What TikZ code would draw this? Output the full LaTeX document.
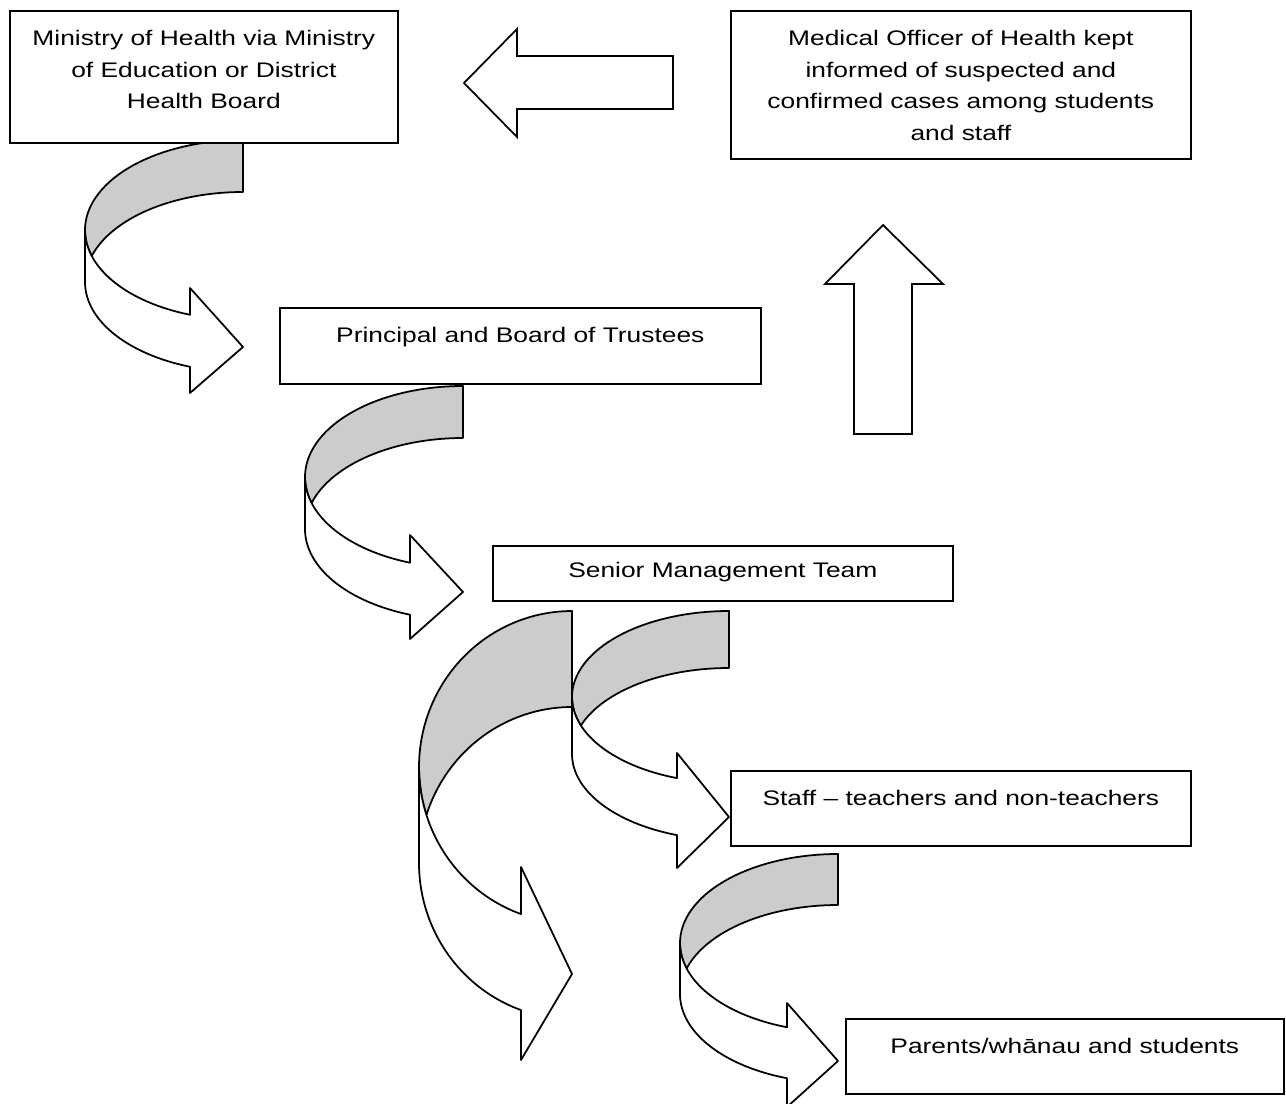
\documentclass[tikz,border=0pt]{standalone}
\usepackage{fontspec}
\setmainfont{Liberation Sans}[FakeStretch=1.25]
\usetikzlibrary{positioning}

\definecolor{bandgray}{gray}{0.8}

% curved ribbon arrow: left, right, top, radius y, band, head base x, head top, head bottom, tip y
\newcommand{\ribbonarrow}[9]{%
	\pgfmathsetmacro{\ribrx}{#2-#1}
	\pgfmathsetmacro{\ribca}{#3+#4}
	\pgfmathsetmacro{\ribcb}{#3+#4+#5}
	\pgfmathsetmacro{\ribal}{asin(#5/(2*#4))}
	\pgfmathsetmacro{\ribpa}{180-\ribal}
	\pgfmathsetmacro{\ribpb}{180+\ribal}
	\pgfmathsetmacro{\ribbe}{acos((#6-#2)/\ribrx)}
	\filldraw[band,fill=bandgray]
		plot[domain=270:\ribpa] ({#2+\ribrx*cos(\x)},{\ribca+#4*sin(\x)})
		-- plot[domain=\ribpb:270] ({#2+\ribrx*cos(\x)},{\ribcb+#4*sin(\x)}) -- cycle;
	\filldraw[band,fill=white]
		plot[domain=180:\ribbe] ({#2+\ribrx*cos(\x)},{\ribcb+#4*sin(\x)})
		-- (#6,#8) -- (#2,#9) -- (#6,#7)
		-- plot[domain=\ribbe:180] ({#2+\ribrx*cos(\x)},{\ribca+#4*sin(\x)}) -- cycle;
}

\begin{document}
\begin{tikzpicture}[x=0.02cm,y=-0.02cm,line width=1pt]

	\tikzset{box/.style={draw,fill=white,anchor=north west,inner sep=0pt}}
	\tikzset{boxtext/.style={anchor=north,align=center,inner sep=0pt,
				font=\fontsize{12}{18}\selectfont}}
	\tikzset{band/.style={samples=40,line join=round}}

	\useasboundingbox (0,0) rectangle (1286,1104);
	\clip (0,0) rectangle (1286,1104);

	\ribbonarrow{85}{243}{140}{90}{52}{190}{288}{393}{347}
	\ribbonarrow{305}{463}{386}{91}{52}{410}{535}{639}{592}
	\ribbonarrow{419}{572}{611}{156}{96}{521}{867}{1060}{974}
	\ribbonarrow{572}{729}{611}{86}{57}{677}{753}{868}{817}
	\ribbonarrow{680}{838}{854}{89}{51}{787}{1003}{1107}{1061}

	% block arrows
	\draw (673,56) -- (517,56) -- (517,29) -- (464,83) -- (517,137) -- (517,109) -- (673,109) -- cycle;
	\draw (854,434) -- (854,284) -- (825,284) -- (883,225) -- (943,284) -- (912,284) -- (912,434) -- cycle;

	\node[box,minimum width=7.76cm,minimum height=2.64cm] (moh) at (9,10) {};
	\node[boxtext,below=0.39cm of moh.north] (mohtext)
	{Ministry of Health via Ministry\\of Education or District\\Health Board};

	\node[box,minimum width=9.2cm,minimum height=2.96cm] (officer) at (730,10) {};
	\node[boxtext,below=0.39cm of officer.north] (officertext)
	{Medical Officer of Health kept\\informed of suspected and\\confirmed cases among students\\and staff};

	\node[box,minimum width=9.62cm,minimum height=1.52cm] (board) at (279,307) {};
	\node[boxtext,below=0.39cm of board.north] (boardtext) {Principal and Board of Trustees};

	\node[box,minimum width=9.2cm,minimum height=1.1cm] (smt) at (492,545) {};
	\node[boxtext,below=0.33cm of smt.north] (smttext) {Senior Management Team};

	\node[box,minimum width=9.2cm,minimum height=1.5cm] (staff) at (730,770) {};
	\node[boxtext,below=0.39cm of staff.north] (stafftext) {Staff – teachers and non-teachers};

	\node[box,minimum width=8.76cm,minimum height=1.5cm] (parents) at (845,1018) {};
	\node[boxtext,below=0.39cm of parents.north] (parentstext) {Parents/whānau and students};

\end{tikzpicture}
\end{document}
